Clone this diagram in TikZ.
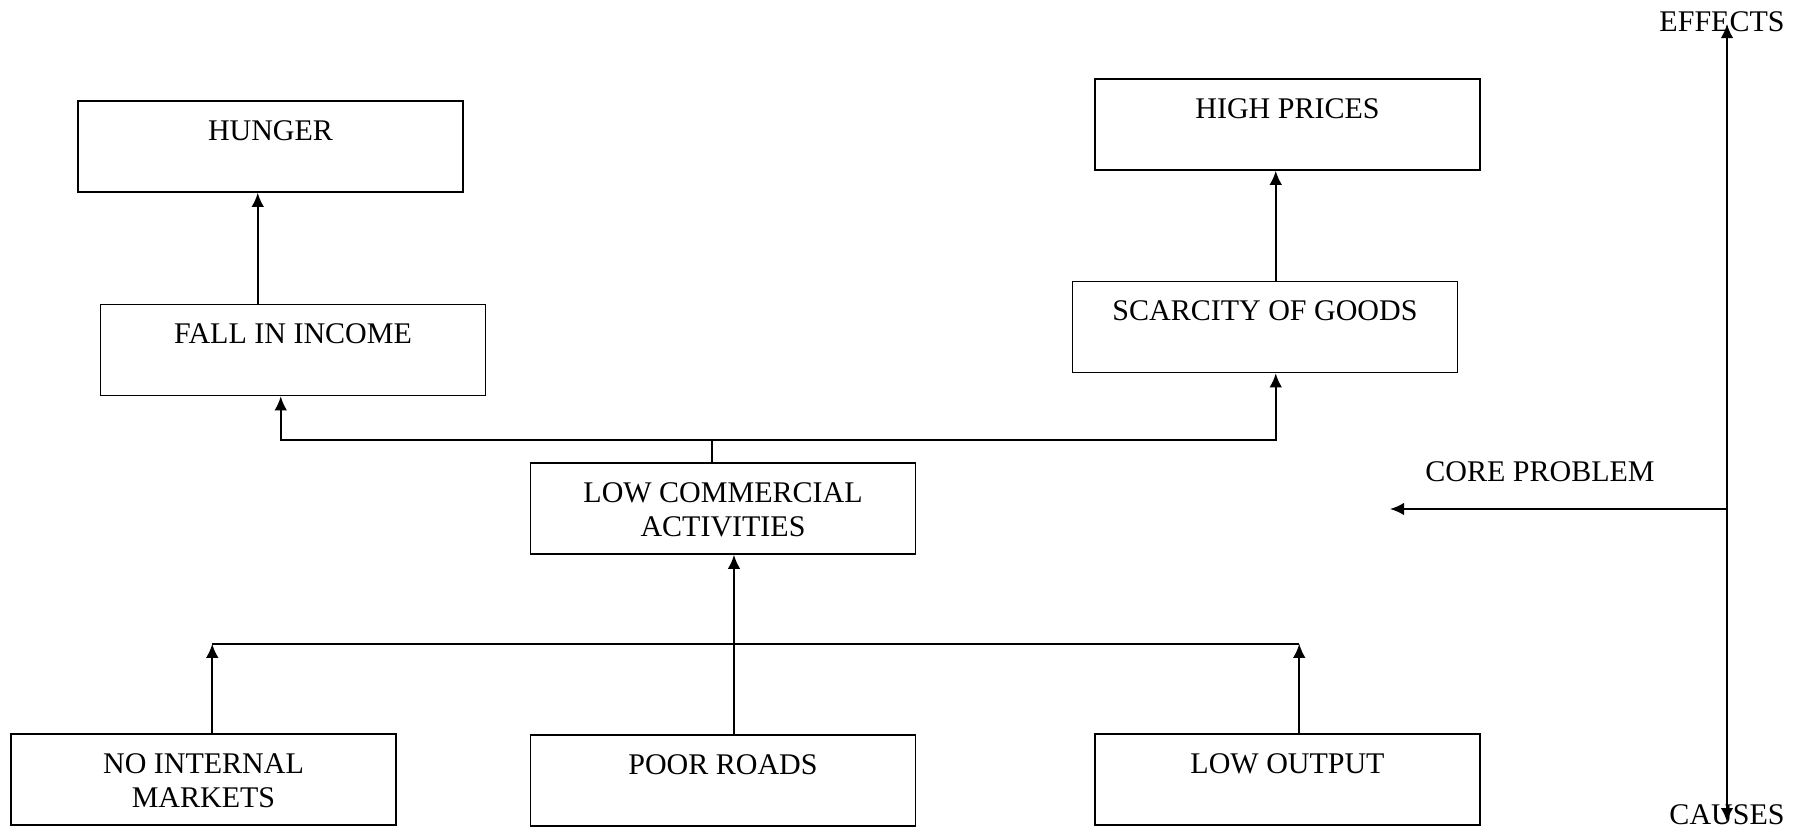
\documentclass[tikz,border=0pt]{standalone}
\usepackage{fontspec}
\setmainfont{Liberation Serif}
\usetikzlibrary{calc,arrows.meta}

\begin{document}
\begin{tikzpicture}[x=0.4pt,y=-0.4pt,line width=0.8pt,font=\fontsize{12}{13.6}\selectfont,
    >={Latex[length=5.6pt,width=5pt]},
    box/.style={draw,line width=0.6pt,minimum width=154pt,inner xsep=2pt,inner ysep=0pt,
        text height=15.6pt,text depth=20.8pt,align=center},
    twoline/.style={text height=29.2pt,text depth=7.2pt}]
    \useasboundingbox (0,0) rectangle (1807,828);

    \node[box] (hunger) at (270.5,146.5) {HUNGER};
    \node[box] (prices) at (1287.5,124.5) {HIGH PRICES};
    \node[box] (income) at (293,350) {FALL IN INCOME};
    \node[box] (scarcity) at (1265,327) {SCARCITY OF GOODS};
    \node[box,twoline] (lowcomm) at (723,508.5) {LOW COMMERCIAL\\ACTIVITIES};
    \node[box,twoline] (markets) at (203.5,779.5) {NO INTERNAL\\MARKETS};
    \node[box] (roads) at (723,780.5) {POOR ROADS};
    \node[box] (output) at (1287.5,779.5) {LOW OUTPUT};

    \coordinate (fi) at ($(income.north west)+(158,0)$);
    \coordinate (sc) at ($(scarcity.north west)+(204,0)$);
    \draw[->] (fi) -- (fi |- hunger.south);
    \draw[->] (sc) -- (sc |- prices.south);

    \coordinate (upbus) at ($(lowcomm.north)+(-11,-22)$);
    \coordinate (fiin) at ($(income.south west)+(181,0)$);
    \coordinate (scin) at ($(scarcity.south west)+(204,0)$);
    \draw[line width=0.5pt] (lowcomm.north -| upbus) -- (upbus);
    \draw[->] (upbus) -| (fiin);
    \draw[->] (upbus) -| (scin);

    \coordinate (rd) at ($(roads.north)+(11,0)$);
    \coordinate (lowbus) at ($(lowcomm.south)+(0,89)$);
    \coordinate (mk) at ($(markets.north west)+(202,0)$);
    \coordinate (op) at ($(output.north west)+(205,0)$);
    \draw[->] (rd) -- (rd |- lowcomm.south);
    \draw (lowbus -| mk) -- (lowbus -| op);
    \draw[->] (mk) -- (mk |- lowbus);
    \draw[->] (op) -- (op |- lowbus);

    \node (effects) at (1722,22) {EFFECTS};
    \node (causes) at (1727,815) {CAUSES};
    \node (core) at (1540,472) {CORE PROBLEM};
    \coordinate (axtop) at (1727,24);
    \coordinate (axbot) at (1727,822);
    \coordinate (axmid) at (1727,509);
    \coordinate (coretip) at (1390,509);
    \draw[<->] (axtop) -- (axbot);
    \draw[->] (axmid) -- (coretip);
\end{tikzpicture}
\end{document}
